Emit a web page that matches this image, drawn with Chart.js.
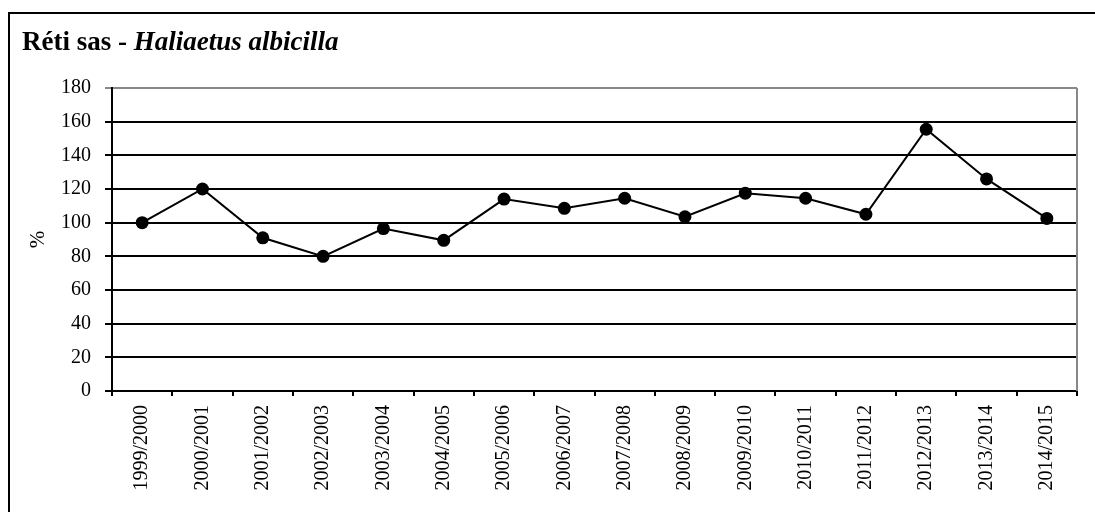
<!DOCTYPE html>
<html>
<head>
<meta charset="utf-8">
<script src="https://cdn.jsdelivr.net/npm/chart.js@4.4.0/dist/chart.umd.min.js"></script>
<style>
    html, body { margin: 0; padding: 0; background: #fff; }
    canvas { display: block; }
</style>
</head>
<body>
<canvas id="chartSas" width="1095" height="512"></canvas>
<script>
const seasons = ["1999/2000", "2000/2001", "2001/2002", "2002/2003", "2003/2004", "2004/2005",
    "2005/2006", "2006/2007", "2007/2008", "2008/2009", "2009/2010", "2010/2011",
    "2011/2012", "2012/2013", "2013/2014", "2014/2015"];
const percentValues = [100, 120, 91, 80, 96.5, 89.5, 114, 108.5, 114.5, 103.5, 117.5, 114.5,
    105, 155.5, 126, 102.5];
const titleMain = "Réti sas - ";
const titleSpecies = "Haliaetus albicilla";
const yAxisLabel = "%";

const serif = "'Liberation Serif', 'Times New Roman', serif";

// frame, title and gray plot border (right side)
const framePlugin = {
    id: "framePlugin",
    beforeDraw(chart) {
        const ctx = chart.ctx;
        ctx.save();
        ctx.fillStyle = "#000";
        ctx.fillRect(8, 12, 2, 600);
        ctx.fillRect(8, 12, 1200, 2);
        ctx.restore();
    },
    afterDraw(chart) {
        const ctx = chart.ctx;
        const area = chart.chartArea;
        ctx.save();
        ctx.strokeStyle = "#888";
        ctx.lineWidth = 2;
        ctx.beginPath();
        ctx.moveTo(area.right, area.top);
        ctx.lineTo(area.right, area.bottom);
        ctx.stroke();

        ctx.fillStyle = "#000";
        ctx.textBaseline = "alphabetic";
        ctx.font = "bold 27px " + serif;
        ctx.fillText(titleMain, 22, 50);
        const w = ctx.measureText(titleMain).width;
        ctx.font = "italic bold 27px " + serif;
        ctx.fillText(titleSpecies, 22 + w, 50);
        ctx.restore();
    }
};

new Chart(document.getElementById("chartSas"), {
    type: "line",
    data: {
        labels: seasons,
        datasets: [{
            data: percentValues,
            borderColor: "#000",
            borderWidth: 2,
            backgroundColor: "#000",
            pointBackgroundColor: "#000",
            pointBorderColor: "#000",
            pointRadius: 6.5,
            pointBorderWidth: 0,
            fill: false,
            tension: 0
        }]
    },
    options: {
        responsive: false,
        animation: false,
        layout: {
            padding: { top: 88, right: 18, bottom: 0, left: 26 }
        },
        plugins: {
            legend: { display: false },
            tooltip: { enabled: false }
        },
        scales: {
            x: {
                offset: true,
                afterFit(scale) { scale.height = 121; },
                grid: {
                    offset: true,
                    drawOnChartArea: false,
                    drawTicks: true,
                    tickLength: 5,
                    color: "#000",
                    lineWidth: 2
                },
                border: { color: "#000", width: 2 },
                ticks: {
                    minRotation: 90,
                    maxRotation: 90,
                    autoSkip: false,
                    padding: 9,
                    color: "#000",
                    font: { family: serif, size: 20 }
                }
            },
            y: {
                min: 0,
                max: 180,
                afterFit(scale) { scale.width = 86; },
                grid: {
                    color: (c) => c.tick && c.tick.value === 180 ? "#888" : "#000",
                    lineWidth: 2,
                    tickLength: 7
                },
                border: { color: "#000", width: 2 },
                ticks: {
                    stepSize: 20,
                    padding: 14,
                    color: "#000",
                    font: { family: serif, size: 20 }
                },
                title: {
                    display: true,
                    text: yAxisLabel,
                    color: "#000",
                    padding: { top: 0, bottom: 0, y: 0 },
                    font: { family: serif, size: 21 }
                }
            }
        }
    },
    plugins: [framePlugin]
});
</script>
</body>
</html>
